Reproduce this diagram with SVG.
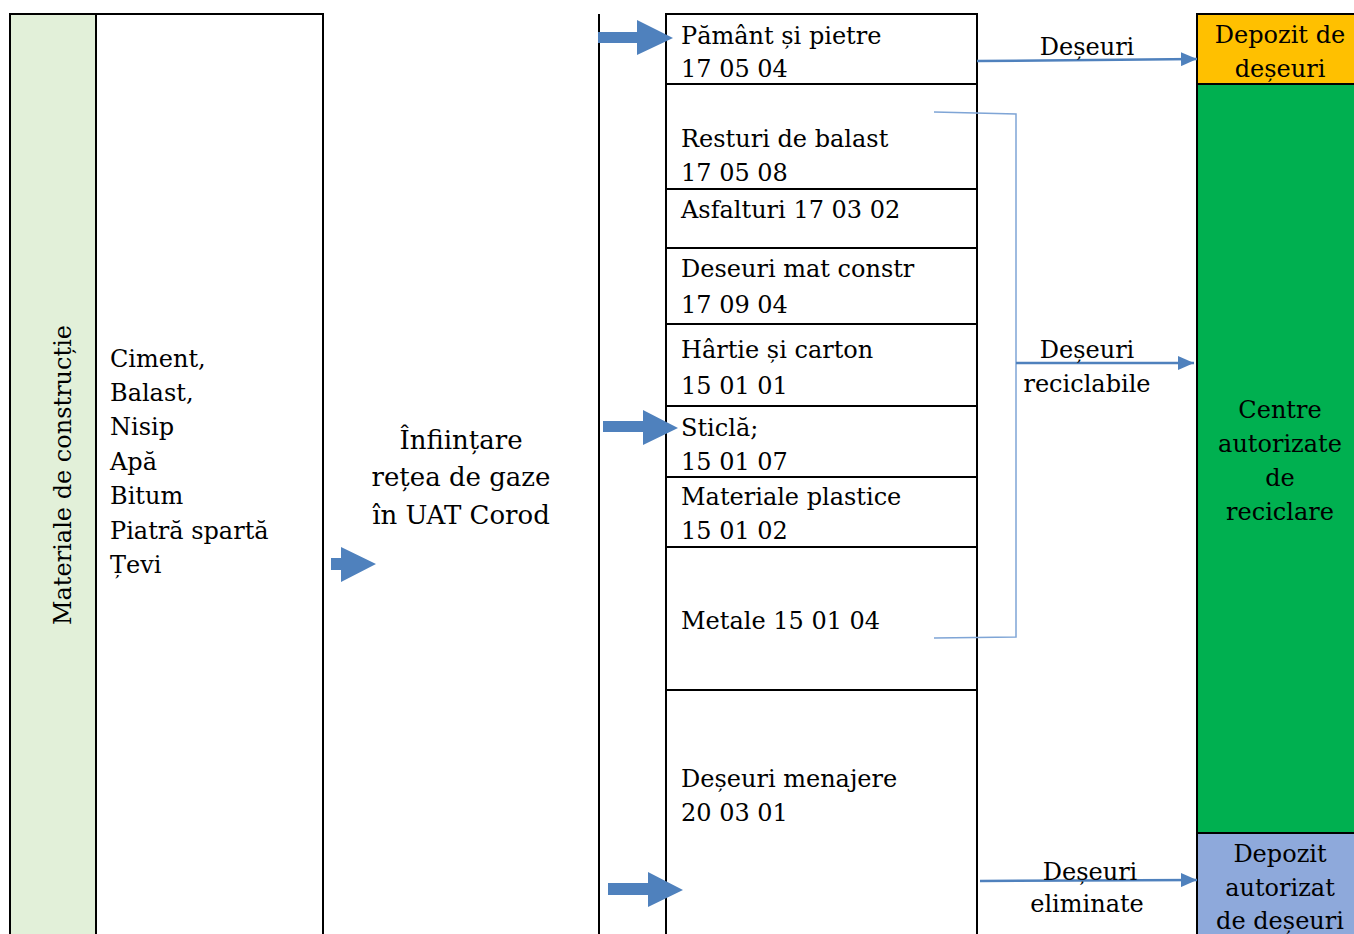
<svg xmlns="http://www.w3.org/2000/svg" width="1354" height="934" viewBox="0 0 1354 934">
<style>
.t{font-family:"DejaVu Serif","Liberation Serif",serif;font-size:24px;fill:#000}
.c{text-anchor:middle}
.box{stroke:#000;stroke-width:2}
.blk{fill:#4F81BD}
.ln{stroke:#4F81BD;stroke-width:2.5;fill:none}
.br{stroke:#7FA5D6;stroke-width:1.5;fill:none}
</style>
<defs>
<marker id="ah2" markerWidth="16" markerHeight="14" refX="16" refY="7" orient="auto" markerUnits="userSpaceOnUse">
<path d="M0,0 L16,7 L0,14 Z" fill="#4F81BD"/>
</marker>
</defs>
<rect width="1354" height="934" fill="#fff"/>

<g id="materiale">
<rect class="box" x="10" y="14" width="86" height="930" fill="#E2F0D9"/>
<text class="t c" transform="translate(71,475) rotate(-90)">Materiale de construcție</text>
</g>
<g id="lista">
<rect class="box" x="96" y="14" width="227" height="930" fill="#fff"/>
<text class="t" x="110" y="367">Ciment,</text>
<text class="t" x="110" y="401">Balast,</text>
<text class="t" x="110" y="435">Nisip</text>
<text class="t" x="110" y="470">Apă</text>
<text class="t" x="110" y="504">Bitum</text>
<text class="t" x="110" y="539">Piatră spartă</text>
<text class="t" x="110" y="573">Țevi</text>
</g>
<g id="proiect">
<line class="box" x1="599" y1="14" x2="599" y2="934"/>
<text class="t c" x="461" y="449" style="font-size:26px">Înființare</text>
<text class="t c" x="461" y="486" style="font-size:26px">rețea de gaze</text>
<text class="t c" x="461" y="524" style="font-size:26px">în UAT Corod</text>
</g>

<g id="deseuri">
<rect class="box" x="666" y="14" width="311" height="930" fill="#fff"/>
<line class="box" x1="666" y1="84" x2="977" y2="84"/>
<line class="box" x1="666" y1="189" x2="977" y2="189"/>
<line class="box" x1="666" y1="248" x2="977" y2="248"/>
<line class="box" x1="666" y1="324" x2="977" y2="324"/>
<line class="box" x1="666" y1="406" x2="977" y2="406"/>
<line class="box" x1="666" y1="477" x2="977" y2="477"/>
<line class="box" x1="666" y1="547" x2="977" y2="547"/>
<line class="box" x1="666" y1="690" x2="977" y2="690"/>
<text class="t" x="681" y="44">Pământ și pietre</text>
<text class="t" x="681" y="77">17 05 04</text>
<text class="t" x="681" y="147">Resturi de balast</text>
<text class="t" x="681" y="181">17 05 08</text>
<text class="t" x="681" y="218">Asfalturi 17 03 02</text>
<text class="t" x="681" y="277">Deseuri mat constr</text>
<text class="t" x="681" y="313">17 09 04</text>
<text class="t" x="681" y="358">Hârtie și carton</text>
<text class="t" x="681" y="394">15 01 01</text>
<text class="t" x="681" y="436">Sticlă;</text>
<text class="t" x="681" y="470">15 01 07</text>
<text class="t" x="681" y="505">Materiale plastice</text>
<text class="t" x="681" y="539">15 01 02</text>
<text class="t" x="681" y="629">Metale 15 01 04</text>
<text class="t" x="681" y="787">Deșeuri menajere</text>
<text class="t" x="681" y="821">20 03 01</text>
</g>

<g id="depozit">
<rect class="box" x="1197" y="14" width="170" height="70" fill="#FFC000"/>
<text class="t c" x="1280" y="43">Depozit de</text>
<text class="t c" x="1280" y="77">deșeuri</text>
</g>
<g id="centre">
<rect class="box" x="1197" y="84" width="170" height="749" fill="#00B050"/>
<text class="t c" x="1280" y="418">Centre</text>
<text class="t c" x="1280" y="452">autorizate</text>
<text class="t c" x="1280" y="486">de</text>
<text class="t c" x="1280" y="520">reciclare</text>
</g>
<g id="autorizat">
<rect class="box" x="1197" y="833" width="170" height="120" fill="#8EA9DB"/>
<text class="t c" x="1280" y="862">Depozit</text>
<text class="t c" x="1280" y="896">autorizat</text>
<text class="t c" x="1280" y="929">de deșeuri</text>
</g>

<g id="connectors">
<path class="blk" d="M331,558 L341,558 L341,547 L376,564 L341,582 L341,570 L331,570 Z"/>
<path class="blk" d="M598,32 L637,32 L637,20 L673,38 L637,55 L637,43 L598,43 Z"/>
<path class="blk" d="M603,421 L643,421 L643,410 L678,428 L643,445 L643,432 L603,432 Z"/>
<path class="blk" d="M608,883 L648,883 L648,872 L683,890 L648,907 L648,895 L608,895 Z"/>
<line class="ln" x1="977" y1="61" x2="1197" y2="59" marker-end="url(#ah2)"/>
<path class="br" d="M934,112 L1016,114 L1016,637 L934,638"/>
<line class="ln" x1="1016" y1="363" x2="1194" y2="363" marker-end="url(#ah2)"/>
<line class="ln" x1="980" y1="881" x2="1197" y2="880" marker-end="url(#ah2)"/>
<text class="t c" x="1087" y="55">Deșeuri</text>
<text class="t c" x="1087" y="358">Deșeuri</text>
<text class="t c" x="1087" y="392">reciclabile</text>
<text class="t c" x="1090" y="880">Deșeuri</text>
<text class="t c" x="1087" y="912">eliminate</text>
</g>
</svg>
